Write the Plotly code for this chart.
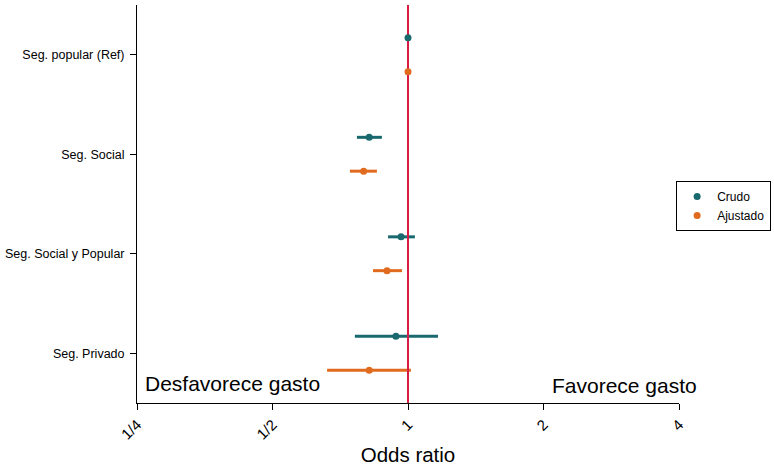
import plotly.graph_objects as go

categories = ["Seg. popular (Ref)", "Seg. Social", "Seg. Social y Popular", "Seg. Privado"]
cat_pos = [4, 3, 2, 1]

crudo_or = [1.0, 0.82, 0.965, 0.94]
crudo_lo = [1.0, 0.77, 0.903, 0.762]
crudo_hi = [1.0, 0.875, 1.036, 1.166]

ajust_or = [1.0, 0.797, 0.898, 0.82]
ajust_lo = [1.0, 0.743, 0.836, 0.661]
ajust_hi = [1.0, 0.853, 0.97, 1.015]

ref_value = 1
y_span = [0.5, 4.5]

tick_vals = [0.25, 0.5, 1, 2, 4]
tick_text = ["1/4", "1/2", "1", "2", "4"]

teal = "#19696e"
orange = "#e06b1e"
red = "#d81b44"
offset = 0.17

fig = go.Figure()

# error bars (drawn under the reference line)
for orv, lo, hi, color, off in [(crudo_or, crudo_lo, crudo_hi, teal, offset),
                                (ajust_or, ajust_lo, ajust_hi, orange, -offset)]:
    fig.add_trace(go.Scatter(
        x=orv, y=[p + off for p in cat_pos], mode="markers",
        marker=dict(color=color, size=1, opacity=0),
        showlegend=False, hoverinfo="skip",
        error_x=dict(type="data", symmetric=False,
                     array=[h - o for h, o in zip(hi, orv)],
                     arrayminus=[o - l for o, l in zip(orv, lo)],
                     color=color, thickness=3, width=0),
    ))

# reference line at OR = 1
fig.add_trace(go.Scatter(x=[ref_value, ref_value], y=y_span, mode="lines",
                         line=dict(color=red, width=2), showlegend=False,
                         hoverinfo="skip"))

# point estimates on top
for name, orv, color, off in [("Crudo", crudo_or, teal, offset),
                              ("Ajustado", ajust_or, orange, -offset)]:
    fig.add_trace(go.Scatter(
        x=orv, y=[p + off for p in cat_pos], mode="markers", name=name,
        marker=dict(color=color, size=7),
    ))

fig.add_annotation(text="Desfavorece gasto", xref="paper", yref="paper",
                   x=0.011, y=0.048, xanchor="left", yanchor="middle",
                   showarrow=False, font=dict(size=21, color="black"))
fig.add_annotation(text="Favorece gasto", xref="paper", yref="paper",
                   x=1.037, y=0.043, xanchor="right", yanchor="middle",
                   showarrow=False, font=dict(size=21, color="black"))

fig.update_layout(
    width=774, height=466,
    margin=dict(l=137, r=95, t=5, b=63, autoexpand=False),
    paper_bgcolor="white", plot_bgcolor="white",
    font=dict(family="Liberation Sans, Arial, sans-serif", color="black"),
    showlegend=True,
    legend=dict(x=1.170, y=0.558, xanchor="right", yanchor="top",
                bordercolor="black", borderwidth=1, bgcolor="white",
                font=dict(size=12), itemwidth=30),
    xaxis=dict(
        type="log",
        range=[-0.60206, 0.60206],
        tickvals=tick_vals, ticktext=tick_text,
        tickangle=-45, tickfont=dict(size=15),
        ticks="outside", ticklen=6, tickcolor="black",
        showline=True, linecolor="black", linewidth=1,
        showgrid=False, zeroline=False,
        title=dict(text="Odds ratio", font=dict(size=20.5), standoff=8),
    ),
    yaxis=dict(
        range=y_span,
        tickvals=cat_pos, ticktext=categories,
        tickfont=dict(size=12.5), ticklabelstandoff=3,
        ticks="outside", ticklen=6, tickcolor="black",
        showline=True, linecolor="black", linewidth=1,
        showgrid=False, zeroline=False,
    ),
)

fig.write_html("out.html")
